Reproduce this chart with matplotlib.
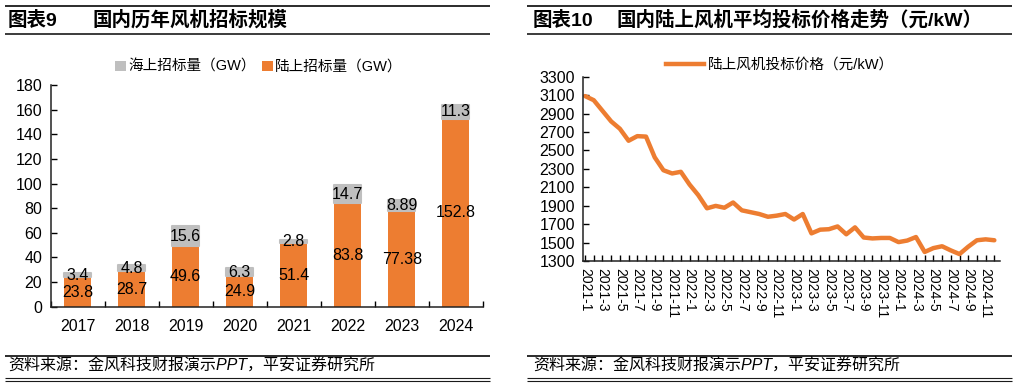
import numpy as np
import matplotlib
matplotlib.use("Agg")
import matplotlib.pyplot as plt
from matplotlib.lines import Line2D
from matplotlib.patches import Patch

plt.rcParams['font.family'] = ['Liberation Sans', 'Noto Sans CJK SC', 'DejaVu Sans']
plt.rcParams['axes.unicode_minus'] = False

# ---------------- data ----------------
years = ['2017', '2018', '2019', '2020', '2021', '2022', '2023', '2024']
onshore = [23.8, 28.7, 49.6, 24.9, 51.4, 83.8, 77.38, 152.8]
offshore = [3.4, 4.8, 15.6, 6.3, 2.8, 14.7, 8.89, 11.3]
onshore_labels = ['23.8', '28.7', '49.6', '24.9', '51.4', '83.8', '77.38', '152.8']
offshore_labels = ['3.4', '4.8', '15.6', '6.3', '2.8', '14.7', '8.89', '11.3']

months = [f'{y}-{m}' for y in (2021, 2022, 2023, 2024) for m in range(1, 13)]
price = [3090, 3045, 2930, 2815, 2735, 2605, 2655, 2650, 2425, 2285, 2250, 2268,
         2130, 2015, 1872, 1898, 1878, 1935, 1850, 1830, 1810, 1780, 1792, 1810,
         1750, 1810, 1600, 1640, 1645, 1675, 1590, 1665, 1555, 1545, 1550, 1550,
         1505, 1522, 1560, 1398, 1440, 1460, 1415, 1375, 1455, 1525, 1535, 1525]

ORANGE = '#ED7D31'
GRAY = '#BFBFBF'
W, H = 1017, 386

fig = plt.figure(figsize=(W / 100, H / 100), dpi=100)


def fx(x):
    return x / W


def fy(y):
    return 1 - y / H


def hline(x0, x1, y, lw):
    fig.add_artist(Line2D([fx(x0), fx(x1)], [fy(y), fy(y)], transform=fig.transFigure,
                          color='#1a1a1a', lw=lw, solid_capstyle='butt'))


# ---------------- header / footer decorations ----------------
for (x0, x1) in ((5, 490), (527, 1012)):
    hline(x0, x1, 5.8, 1.3)
    hline(x0, x1, 33.5, 1.2)
    hline(x0, x1, 355.5, 1.3)
    hline(x0, x1, 378.3, 0.8)
    hline(x0, x1, 380.8, 0.8)

TS = 14
fig.text(fx(8), fy(20), '图表9', fontsize=TS, fontweight='bold', va='center', ha='left')
fig.text(fx(93), fy(20), '国内历年风机招标规模', fontsize=TS, fontweight='bold', va='center', ha='left')
fig.text(fx(533), fy(20), '图表10', fontsize=TS, fontweight='bold', va='center', ha='left')
fig.text(fx(617), fy(20), '国内陆上风机平均投标价格走势（元/kW）', fontsize=TS, fontweight='bold',
         va='center', ha='left')

src = '资料来源：金风科技财报演示PPT，平安证券研究所'
fig.text(fx(8), fy(366.5), src, fontsize=11.5, va='center', ha='left', style='italic')
fig.text(fx(533), fy(366.5), src, fontsize=11.5, va='center', ha='left', style='italic')

# ---------------- left: bar chart ----------------
ax1 = fig.add_axes([fx(50.7), fy(306.7), fx(482.7) - fx(50.7), fy(85) - fy(306.7)])
x = np.arange(len(years))
ax1.bar(x, onshore, width=0.5, color=ORANGE, zorder=2)
ax1.bar(x, offshore, bottom=onshore, width=0.5, color=GRAY, zorder=2,
        edgecolor=GRAY, linewidth=1.5, joinstyle='round')
for i in range(len(years)):
    ax1.text(x[i], onshore[i] / 2, onshore_labels[i], ha='center', va='center', fontsize=11.5)
    ax1.text(x[i], onshore[i] + offshore[i] / 2, offshore_labels[i], ha='center', va='center',
             fontsize=11.5)
ax1.set_xlim(-0.5, len(years) - 0.5)
ax1.set_ylim(0, 180)
ax1.set_yticks(np.arange(0, 181, 20))
ax1.set_xticks(x, years)
ax1.set_xticks(np.arange(-0.5, len(years), 1), minor=True)
ax1.tick_params(axis='x', which='major', length=0, labelsize=11.5, pad=9)
ax1.tick_params(axis='x', which='minor', direction='in', length=4, width=1)
ax1.tick_params(axis='y', direction='in', length=4, width=1, labelsize=11.5, pad=6)
for s in ('top', 'right'):
    ax1.spines[s].set_visible(False)
for s in ('left', 'bottom'):
    ax1.spines[s].set_linewidth(1.1)
    ax1.spines[s].set_color('#222222')

h1 = [Patch(facecolor=GRAY, edgecolor='none'), Patch(facecolor=ORANGE, edgecolor='none')]
fig.legend(h1, ['海上招标量（GW）', '陆上招标量（GW）'], loc='center', ncol=2,
           bbox_to_anchor=(fx(259), fy(67)), bbox_transform=fig.transFigure, frameon=False,
           fontsize=10.5, handlelength=0.75, handleheight=0.75, handletextpad=0.15,
           columnspacing=0.4, borderpad=0)

# ---------------- right: line chart ----------------
ax2 = fig.add_axes([fx(583.3), fy(261), fx(1000) - fx(583.3), fy(76.7) - fy(261)])
xm = np.arange(len(months))
ax2.plot(xm, price, color=ORANGE, lw=3.2, solid_joinstyle='round', solid_capstyle='round',
         clip_on=False)
ax2.set_xlim(-0.2, len(months) - 0.35)
ax2.set_ylim(1300, 3300)
ax2.set_yticks(np.arange(1300, 3301, 200))
ax2.set_xticks(xm[::2], months[::2], rotation=270)
ax2.set_xticks(xm, minor=True)
ax2.tick_params(axis='x', which='major', direction='in', length=4, width=1, labelsize=10, pad=5)
ax2.tick_params(axis='x', which='minor', direction='in', length=4, width=1)
ax2.tick_params(axis='y', direction='in', length=4, width=1, labelsize=11.5, pad=6)
for s in ('top', 'right'):
    ax2.spines[s].set_visible(False)
for s in ('left', 'bottom'):
    ax2.spines[s].set_linewidth(1.1)
    ax2.spines[s].set_color('#222222')

h2 = [Line2D([0], [0], color=ORANGE, lw=3.2)]
fig.legend(h2, ['陆上风机投标价格（元/kW）'], loc='center',
           bbox_to_anchor=(fx(780), fy(65)), bbox_transform=fig.transFigure, frameon=False,
           fontsize=10.5, handlelength=2.6, handletextpad=0.3, borderpad=0)

fig.savefig('out.png', dpi=100)
